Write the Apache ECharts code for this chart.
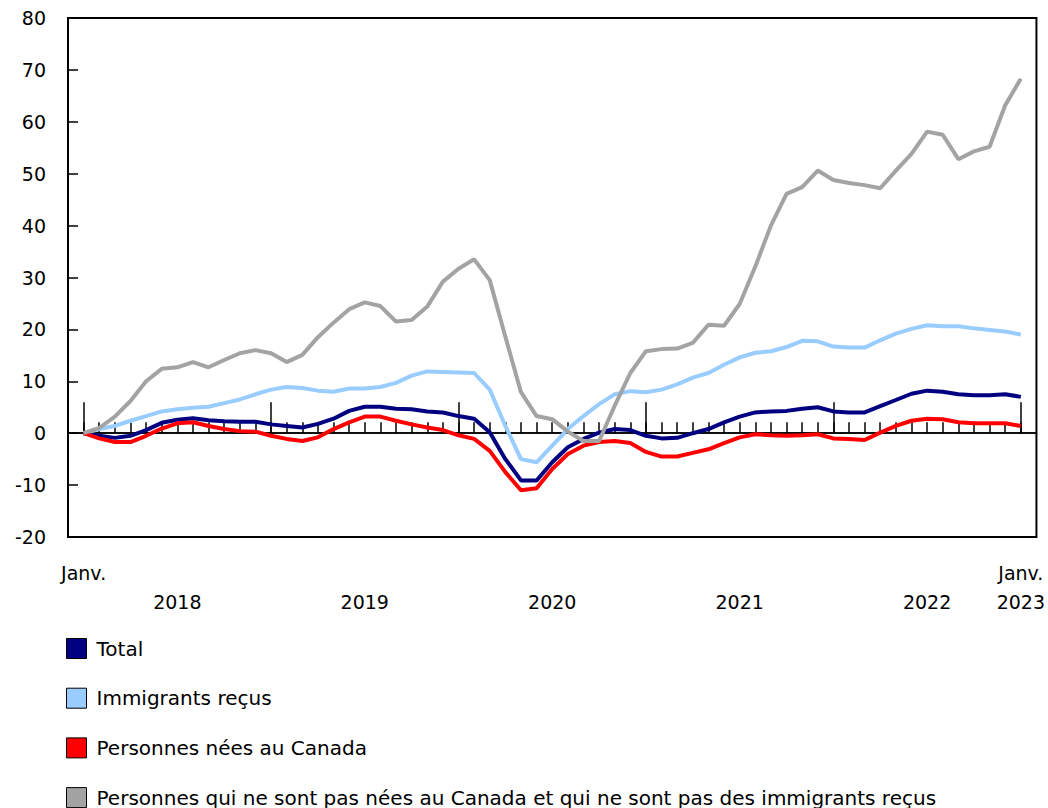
<!DOCTYPE html>
<html>
<head>
<meta charset="utf-8">
<script src="https://cdn.jsdelivr.net/npm/echarts@6/dist/echarts.min.js"></script>
<style>
  html, body { margin: 0; padding: 0; background: #fff; }
  #chart { width: 1048px; height: 808px; }
</style>
</head>
<body>
<div id="chart"></div>
<script>
(function() {
  'use strict';

  var font = '"DejaVu Sans", Verdana, sans-serif';

  // ========== Data ==========
  var years = [2018, 2019, 2020, 2021, 2022, 2023];
  var monthNames = ['janv.', 'févr.', 'mars', 'avr.', 'mai', 'juin', 'juil.', 'août', 'sept.', 'oct.', 'nov.', 'déc.'];

  var seriesNames = [
    'Total',
    'Immigrants reçus',
    'Personnes nées au Canada',
    'Personnes qui ne sont pas nées au Canada et qui ne sont pas des immigrants reçus'
  ];
  var seriesColors = ['#000080', '#99ccff', '#ff0000', '#a3a3a3'];

  var total = [
    0, -0.5, -0.9, -0.5, 0.6, 2.0, 2.6, 2.9, 2.5, 2.3, 2.2, 2.2,
    1.7, 1.4, 1.1, 1.8, 2.8, 4.3, 5.1, 5.1, 4.7, 4.6, 4.2, 4.0,
    3.3, 2.8, 0.2, -5.0, -9.1, -9.1, -5.6, -2.7, -1.1, 0.1, 0.8, 0.6,
    -0.5, -1.0, -0.9, 0.0, 0.8, 2.1, 3.2, 4.0, 4.2, 4.3, 4.7, 5.0,
    4.2, 4.0, 4.0, 5.2, 6.4, 7.6, 8.2, 8.0, 7.5, 7.3, 7.3, 7.5,
    7.0
  ];
  var immigrants = [
    0, 0.8, 1.4, 2.4, 3.3, 4.2, 4.6, 4.9, 5.1, 5.8, 6.5, 7.5,
    8.4, 8.9, 8.7, 8.2, 8.0, 8.6, 8.6, 8.9, 9.7, 11.1, 11.9, 11.8,
    11.7, 11.6, 8.4, 1.4, -5.0, -5.6, -2.4, 0.8, 3.3, 5.6, 7.5, 8.1,
    7.9, 8.4, 9.4, 10.7, 11.6, 13.2, 14.6, 15.5, 15.8, 16.6, 17.8, 17.7,
    16.7, 16.5, 16.5, 17.9, 19.2, 20.1, 20.8, 20.6, 20.6, 20.2, 19.9, 19.6,
    19.0
  ];
  var canadaBorn = [
    0, -1.0, -1.7, -1.7, -0.5, 0.9, 1.9, 2.1, 1.4, 0.8, 0.4, 0.3,
    -0.5, -1.1, -1.5, -0.8, 0.8, 2.1, 3.2, 3.2, 2.4, 1.7, 1.1, 0.6,
    -0.4, -1.1, -3.4, -7.5, -11.0, -10.6, -6.9, -4.0, -2.4, -1.7, -1.5, -1.9,
    -3.6, -4.5, -4.5, -3.8, -3.1, -1.9, -0.8, -0.2, -0.4, -0.5, -0.4, -0.2,
    -1.0, -1.1, -1.3, 0.1, 1.4, 2.4, 2.8, 2.7, 2.1, 1.9, 1.9, 1.9,
    1.4
  ];
  var nonPermanent = [
    0, 1.0, 3.2, 6.2, 10.0, 12.4, 12.7, 13.7, 12.7, 14.1, 15.4, 16.0,
    15.4, 13.7, 15.1, 18.5, 21.3, 23.9, 25.2, 24.5, 21.5, 21.8, 24.4, 29.2,
    31.7, 33.5, 29.5, 18.6, 7.9, 3.3, 2.7, 0.3, -1.5, -1.5, 5.3, 11.6,
    15.8, 16.2, 16.3, 17.4, 20.9, 20.7, 24.9, 32.1, 40.0, 46.1, 47.4, 50.6,
    48.8, 48.2, 47.8, 47.2, 50.6, 53.8, 58.1, 57.5, 52.8, 54.3, 55.2, 63.2,
    68.3
  ];
  var seriesData = [total, immigrants, canadaBorn, nonPermanent];

  // categories: one empty slot on each side of the 61 months
  var categories = [''];
  years.forEach(function(y) {
    monthNames.forEach(function(m) {
      if (y < 2023 || m === 'janv.') categories.push(m + ' ' + y);
    });
  });
  categories.push('');

  function monthIndex(i) { return i - 1; }

  var chart = echarts.init(document.getElementById('chart'), null, { renderer: 'svg' });

  var baseX = {
    type: 'category',
    data: categories,
    boundaryGap: false,
    position: 'bottom',
    axisLabel: { show: false },
    splitLine: { show: false }
  };

  chart.setOption({
    animation: false,
    textStyle: { fontFamily: font },
    grid: {
      left: 68, right: 11, top: 18, bottom: 271,
      show: true, borderColor: '#000', borderWidth: 2
    },
    legend: {
      data: seriesNames,
      orient: 'vertical',
      left: 66,
      top: 638,
      width: 980,
      height: 400,
      padding: 0,
      icon: 'rect',
      itemWidth: 20,
      itemHeight: 20,
      itemGap: 28.7,
      selectedMode: false,
      itemStyle: { borderColor: '#000', borderWidth: 1 },
      textStyle: { fontSize: 20, color: '#000', fontFamily: font, lineHeight: 20, padding: [0, 0, 0, 5] }
    },
    xAxis: [
      Object.assign({}, baseX, {
        axisLine: { show: false, onZero: false },
        axisTick: { show: false },
        axisLabel: {
          show: true,
          interval: 0,
          fontSize: 19,
          lineHeight: 29,
          margin: 21,
          color: '#000',
          fontFamily: font,
          formatter: function(v, i) {
            var m = monthIndex(i);
            if (m < 0 || m > 60) return '';
            if (m === 0) return 'Janv.';
            if (m === 60) return 'Janv.\n' + years[5];
            if (m % 12 === 6) return '\n' + years[Math.floor(m / 12)];
            return '';
          }
        }
      }),
      Object.assign({}, baseX, {
        axisLine: { show: true, onZero: true, onZeroAxisIndex: 0, lineStyle: { color: '#000', width: 1.5 } },
        axisTick: {
          show: true, inside: true, length: 11,
          interval: function(i) { var m = monthIndex(i); return m >= 0 && m <= 60; },
          lineStyle: { color: '#000', width: 1.5 }
        }
      }),
      Object.assign({}, baseX, {
        axisLine: { show: true, onZero: true, onZeroAxisIndex: 0, lineStyle: { color: '#000', width: 1.5 } },
        axisTick: {
          show: true, inside: true, length: 31,
          interval: function(i) { var m = monthIndex(i); return m >= 0 && m <= 60 && m % 12 === 0; },
          lineStyle: { color: '#000', width: 1.5 }
        }
      })
    ],
    yAxis: {
      type: 'value',
      min: -20,
      max: 80,
      interval: 10,
      axisLine: { show: false, onZero: false },
      axisTick: { show: true, inside: true, length: 10, lineStyle: { color: '#000', width: 1.5 } },
      axisLabel: { fontSize: 19, color: '#000', margin: 22, fontFamily: font },
      splitLine: { show: false }
    },
    series: seriesNames.map(function(name, s) {
      return {
        name: name,
        type: 'line',
        xAxisIndex: 0,
        data: [null].concat(seriesData[s]),
        showSymbol: false,
        symbol: 'none',
        lineStyle: { color: seriesColors[s], width: 4 },
        itemStyle: { color: seriesColors[s] }
      };
    })
  });
  window.addEventListener('resize', function() { chart.resize(); });
})();
</script>
</body>
</html>
